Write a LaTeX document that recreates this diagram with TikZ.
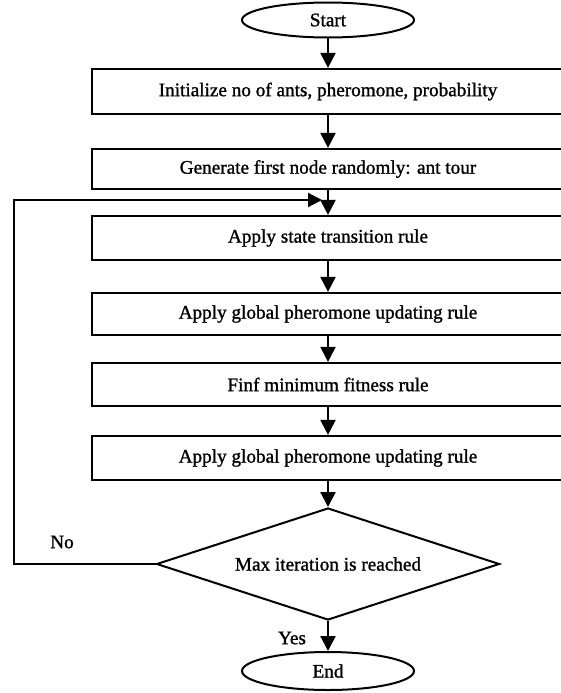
\documentclass[tikz,border=0pt]{standalone}
\usepackage{fontspec}
\setmainfont{Liberation Serif}
\newfontface\heavy{Liberation Serif}[FakeBold=1.2]
\usetikzlibrary{shapes.geometric,arrows.meta}
\begin{document}
\begin{tikzpicture}[x=1pt,y=-1pt,
  txt/.style={font=\heavy\fontsize{19.2}{22}\selectfont},
  box/.style={draw,line width=2.2pt,minimum width=472pt,inner sep=0pt,txt},
  term/.style={draw,ellipse,line width=2pt,minimum width=172pt,minimum height=35pt,inner sep=0pt,txt},
  dec/.style={draw,diamond,shape aspect=3.06,line width=2pt,minimum width=343pt,minimum height=112pt,inner sep=0pt,txt},
  arr/.style={line width=2.2pt,-{Triangle[width=15pt,length=15pt]}},
  lbl/.style={txt}]
\useasboundingbox (0,0) rectangle (561,693);
\clip (0,0) rectangle (561,693);
\node[term] (start) at (328,20) {Start};
\node[box,minimum height=45pt] (init) at (328,91.5) {Initialize no of ants, pheromone, probability};
\node[box,minimum height=40pt] (gen) at (328,169) {Generate first node randomly: ant tour};
\node[box,minimum height=44pt] (state) at (328,238) {Apply state transition rule};
\node[box,minimum height=42pt] (glob1) at (328,314) {Apply global pheromone updating rule};
\node[box,minimum height=43pt] (finf) at (328,384.5) {Finf minimum fitness rule};
\node[box,minimum height=44pt] (glob2) at (328,458) {Apply global pheromone updating rule};
\node[dec] (dec) at (328,564) {Max iteration is reached};
\node[term,minimum height=38pt] (end) at (328,671) {End};
\node[lbl] (no) at (62,542) {No};
\node[lbl] (yes) at (292,638) {Yes};
\coordinate (lp) at (14,200);
\coordinate (lpend) at (322,200);
\draw[arr] (start.south) -- (init.north);
\draw[arr] (init.south) -- (gen.north);
\draw[arr] (gen.south) -- (state.north);
\draw[arr] (state.south) -- (glob1.north);
\draw[arr] (glob1.south) -- (finf.north);
\draw[arr] (finf.south) -- (glob2.north);
\draw[arr] (glob2.south) -- (dec.north);
\draw[arr] (dec.south) -- (end.north);
\draw[line width=2.2pt,-{Triangle[width=14pt,length=14pt]}] (dec.west) -- (dec.west -| lp) -- (lp) -- (lpend);
\end{tikzpicture}
\end{document}
